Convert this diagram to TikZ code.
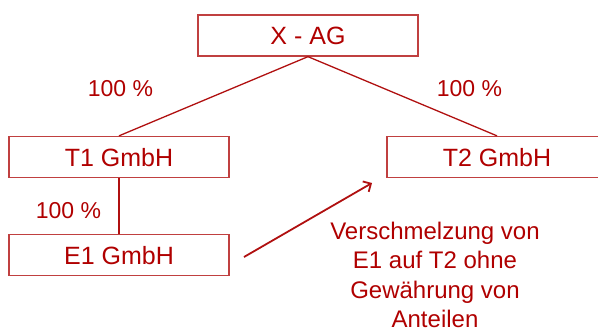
\documentclass[tikz,border=0pt]{standalone}
\usepackage{fontspec}
\setmainfont{Liberation Sans}
\usetikzlibrary{arrows.meta}
\definecolor{txtred}{RGB}{176,0,0}
\definecolor{boxred}{RGB}{192,64,64}
\definecolor{linered}{RGB}{176,16,16}
\tikzset{
  entity/.style={draw=boxred, line width=1.3pt, rectangle, minimum width=220pt, minimum height=41pt,
    inner sep=0pt, text=txtred, font=\fontsize{25}{30}\selectfont, text height=18pt, text depth=0pt},
  pct/.style={text=txtred, font=\fontsize{23}{28}\selectfont, inner sep=0pt, text height=16.5pt, text depth=0pt},
  link/.style={draw=linered, line width=1.3pt},
  merge/.style={draw=linered, line width=1.8pt, -{Straight Barb[length=6pt,width=12pt]}},
  note/.style={text=txtred, font=\fontsize{24}{29.5}\selectfont, align=center, inner sep=0pt}
}
\begin{document}
\begin{tikzpicture}[x=1pt,y=-1pt]
\useasboundingbox (0,0) rectangle (598,330);
\clip (0,0) rectangle (598,330);
\node[entity] (xag) at (308,35.5) {X - AG};
\node[entity] (t1) at (119,157) {T1 GmbH};
\node[entity] (e1) at (119,255) {E1 GmbH};
\node[entity] (t2) at (497,157) {T2 GmbH};
\draw[link] (xag.south) -- (t1.north);
\draw[link] (xag.south) -- (t2.north);
\draw[link] (t1.south) -- (e1.north);
\node[pct] (p1) at (120.5,88) {100 \%};
\node[pct] (p2) at (469.5,88) {100 \%};
\node[pct] (p3) at (68.5,210) {100 \%};
\coordinate (as) at (244,257);
\coordinate (ae) at (372,183);
\draw[merge] (as) -- (ae);
\node[note] (n) at (435,275) {Verschmelzung von\\E1 auf T2 ohne\\Gewährung von\\Anteilen};
\end{tikzpicture}
\end{document}
